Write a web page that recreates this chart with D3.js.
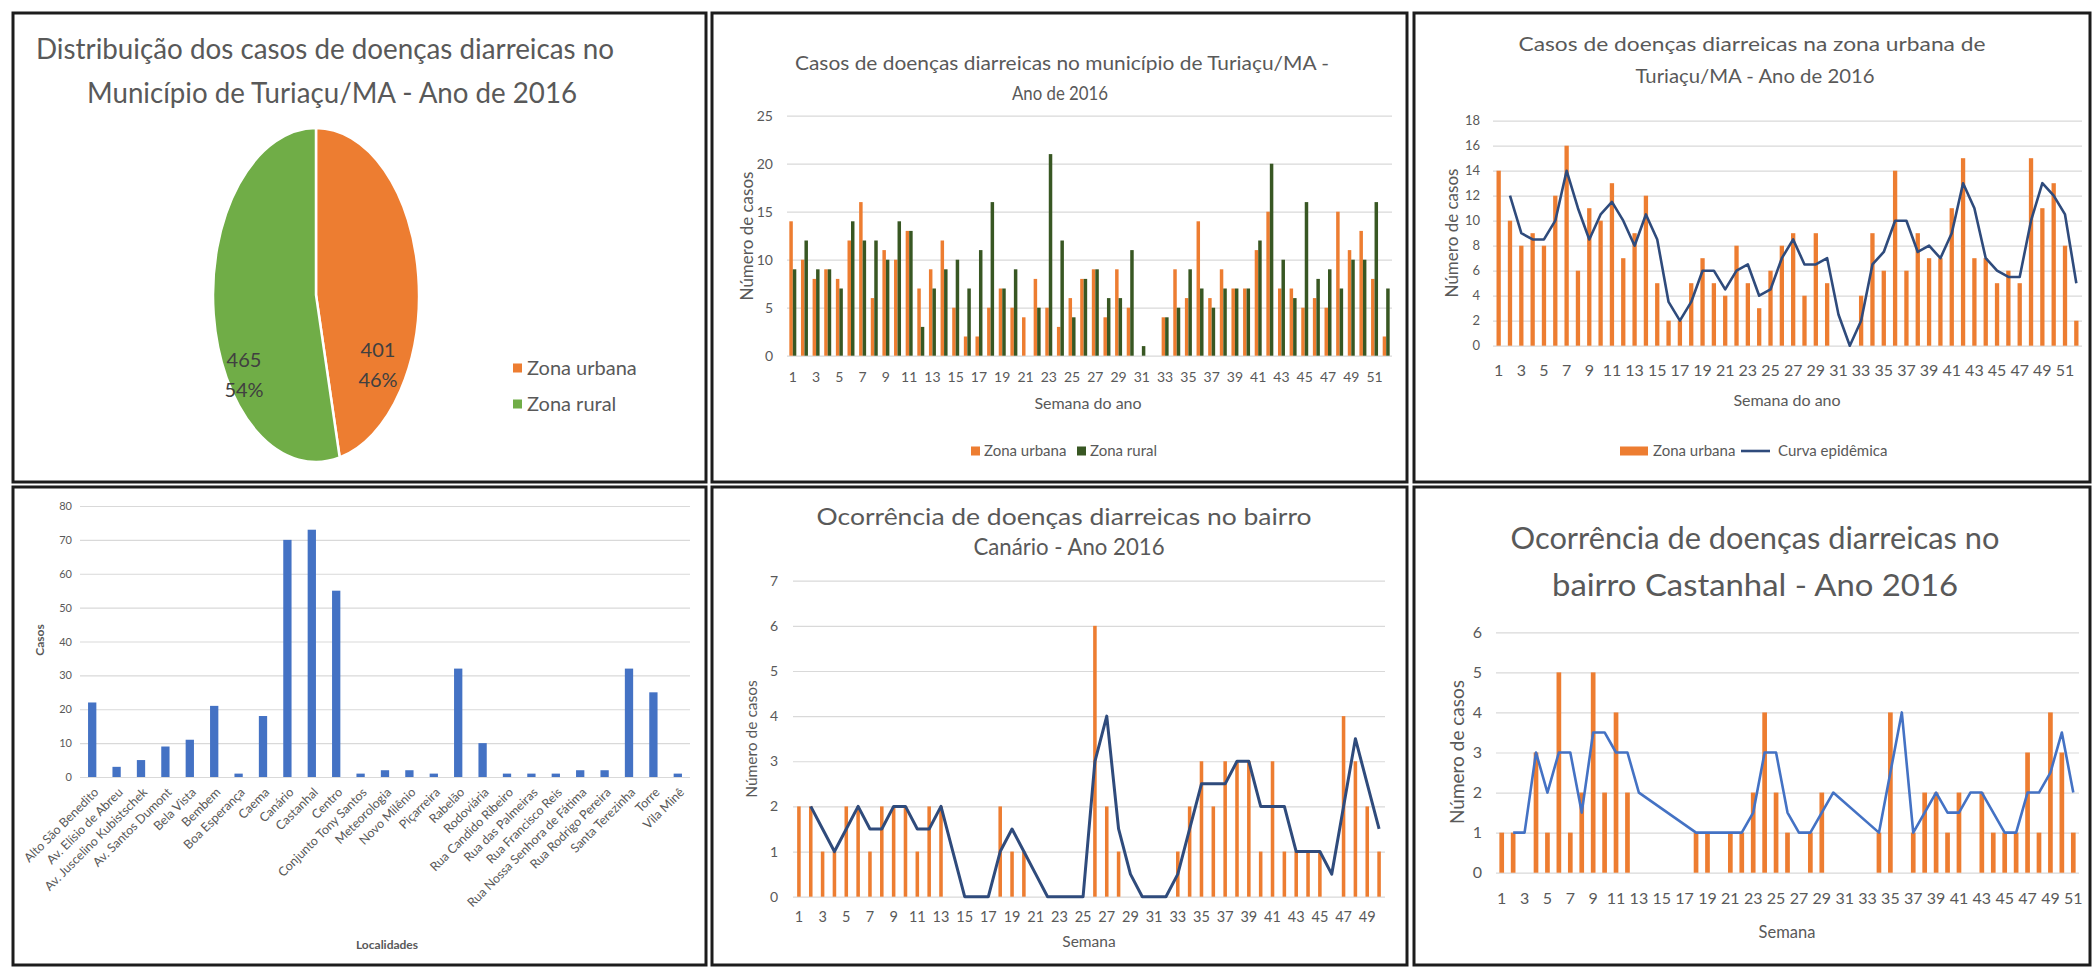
<!DOCTYPE html>
<html>
<head>
<meta charset="utf-8">
<script src="https://cdn.jsdelivr.net/npm/d3@7"></script>
<style>
  html, body { margin: 0; padding: 0; background: #fff; }
  svg { display: block; }
</style>
</head>
<body>
<svg id="chart" width="2093" height="971"></svg>
<script>
// ---------------- data ----------------
const zoneNames = ["Zona urbana", "Zona rural"];
const zoneTotals = [401, 465];

const weeks52 = [1,2,3,4,5,6,7,8,9,10,11,12,13,14,15,16,17,18,19,20,21,22,23,24,25,26,
                 27,28,29,30,31,32,33,34,35,36,37,38,39,40,41,42,43,44,45,46,47,48,49,50,51,52];
const weeks51 = weeks52.slice(0, 51);
const weeks50 = weeks52.slice(0, 50);

const oddWeekTicks51 = [1,3,5,7,9,11,13,15,17,19,21,23,25,27,29,31,33,35,37,39,41,43,45,47,49,51];
const oddWeekTicks49 = [1,3,5,7,9,11,13,15,17,19,21,23,25,27,29,31,33,35,37,39,41,43,45,47,49];

// weekly cases, whole municipality
const urbanCases = [14,10,8,9,8,12,16,6,11,10,13,7,9,12,5,2,2,5,7,5,4,8,5,3,6,8,
                    9,4,9,5,0,0,4,9,6,14,6,9,7,7,11,15,7,7,5,6,5,15,11,13,8,2];
const ruralCases = [9,12,9,9,7,14,12,12,10,14,13,3,7,9,10,7,11,16,7,9,0,5,21,12,4,8,
                    9,6,6,11,1,0,4,5,9,7,5,7,7,7,12,20,10,6,16,8,9,7,10,10,16,7];
const yTicks25 = [0,5,10,15,20,25];

// epidemic curve, urban zone (no point in week 1)
const urbanCurve = [null,12,9,8.5,8.5,10,14,11,8.5,10.5,11.5,10,8,10.5,8.5,3.5,2,3.5,6,6,4.5,6,6.5,4,4.5,7,
                    8.5,6.5,6.5,7,2.5,0,2,6.5,7.5,10,10,7.5,8,7,9,13,11,7,6,5.5,5.5,10,13,12,10.5,5];
const yTicks18 = [0,2,4,6,8,10,12,14,16,18];

// cases by locality
const localities = ["Alto São Benedito","Av. Elísio de Abreu","Av. Juscelino Kubistschek","Av. Santos Dumont",
  "Bela Vista","Bembem","Boa Esperança","Caema","Canário","Castanhal","Centro","Conjunto Tony Santos",
  "Meteorologia","Novo Milênio","Piçarreira","Rabelão","Rodoviária","Rua Candido Ribeiro",
  "Rua das Palmeiras","Rua Francisco Reis","Rua Nossa Senhora de Fátima","Rua Rodrigo Pereira",
  "Santa Terezinha","Torre","Vila Minê"];
const localityCases = [22,3,5,9,11,21,1,18,70,73,55,1,2,2,1,32,10,1,1,1,2,2,32,25,1];
const yTicks80 = [0,10,20,30,40,50,60,70,80];

// bairro Canário, weeks 1-50
const canarioCases = [2,2,1,1,2,2,1,2,2,2,1,2,2,0,0,0,0,2,1,1,0,0,0,0,0,
                      6,2,1,0,0,0,0,1,2,3,2,3,3,3,1,3,1,1,1,1,0,4,3,2,1];
const canarioCurve = [null,2,1.5,1,1.5,2,1.5,1.5,2,2,1.5,1.5,2,1,0,0,0,1,1.5,1,0.5,0,0,0,0,
                      3,4,1.5,0.5,0,0,0,0.5,1.5,2.5,2.5,2.5,3,3,2,2,2,1,1,1,0.5,2,3.5,2.5,1.5];
const yTicks7 = [0,1,2,3,4,5,6,7];

// bairro Castanhal, weeks 1-51 (curve has no point where both weeks are empty)
const castanhalCases = [1,1,0,3,1,5,1,2,5,2,4,2,0,0,0,0,0,1,1,0,1,1,2,4,2,1,
                        0,1,2,0,0,0,0,1,4,0,1,2,2,1,2,0,2,1,1,1,3,1,4,3,1];
const castanhalCurve = [null,1,1,3,2,3,3,1.5,3.5,3.5,3,3,2,null,null,null,null,1,1,1,1,1,1.5,3,3,1.5,
                        1,1,1.5,2,null,null,null,1,2.5,4,1,1.5,2,1.5,1.5,2,2,1.5,1,1,2,2,2.5,3.5,2];
const yTicks6 = [0,1,2,3,4,5,6];

// ---------------- style ----------------
const FONT = "Lato, 'Open Sans', sans-serif";
const C = {
  orange: "#ED7D31", green: "#70AD47", darkGreen: "#385723",
  blue: "#4472C4", navy: "#2F4B7C", text: "#595959", dark: "#404040",
  grid: "#D9D9D9", frame: "#1c1c1c"
};

const svg = d3.select("#chart").attr("font-family", FONT);
svg.append("rect").attr("width", 2093).attr("height", 971).attr("fill", "#fff");

function addText(parent, x, y, str, size, o = {}) {
  const t = parent.append("text")
    .attr("x", x).attr("y", y).attr("dy", "0.35em")
    .attr("font-size", size)
    .attr("fill", o.fill || C.text)
    .attr("text-anchor", o.anchor || "middle")
    .text(str);
  if (o.width) t.attr("textLength", o.width).attr("lengthAdjust", "spacingAndGlyphs");
  if (o.weight) t.attr("font-weight", o.weight);
  if (o.rotate) t.attr("transform", `rotate(${o.rotate},${x},${y})`);
  return t;
}

function frame(x0, y0, x1, y1) {
  svg.append("rect")
    .attr("x", x0).attr("y", y0).attr("width", x1 - x0).attr("height", y1 - y0)
    .attr("fill", "none").attr("stroke", C.frame).attr("stroke-width", 3);
}

function yGrid(parent, y, ticks, x0, x1, labelRight, size) {
  const ax = parent.append("g")
    .attr("transform", `translate(${x0},0)`)
    .call(d3.axisLeft(y).tickValues(ticks).tickSize(-(x1 - x0)).tickFormat(d3.format("d")));
  ax.select(".domain").remove();
  ax.selectAll(".tick line").attr("stroke", C.grid).attr("stroke-width", 1.2);
  ax.selectAll(".tick text")
    .attr("x", labelRight - x0).attr("fill", C.text)
    .attr("font-size", size).attr("font-family", FONT);
  return ax;
}

function xLabels(parent, x, ticks, yBase, labelY, size) {
  const ax = parent.append("g")
    .attr("transform", `translate(0,${yBase})`)
    .call(d3.axisBottom(x).tickValues(ticks).tickSize(0));
  ax.select(".domain").remove();
  ax.selectAll(".tick text")
    .attr("y", labelY - yBase).attr("dy", "0.35em")
    .attr("fill", C.text).attr("font-size", size).attr("font-family", FONT);
  return ax;
}

// weekly bars with a moving-average curve on top
function weekPanel(cfg) {
  const g = svg.append("g");
  const x = d3.scaleBand().domain(cfg.weeks).range([cfg.x0, cfg.x1])
    .paddingInner(cfg.pad).paddingOuter(cfg.pad / 2);
  const y = d3.scaleLinear().domain([0, cfg.yMax]).range([cfg.yBase, cfg.yTop]);

  yGrid(g, y, cfg.yTicks, cfg.x0, cfg.x1, cfg.labelRight, cfg.yFont);

  g.append("g").selectAll("rect")
    .data(cfg.weeks.map((w, i) => ({ w, v: cfg.cases[i] })))
    .join("rect")
    .attr("x", d => x(d.w))
    .attr("width", x.bandwidth())
    .attr("y", d => y(d.v))
    .attr("height", d => y(0) - y(d.v))
    .attr("fill", C.orange);

  const pts = cfg.weeks.map((w, i) => ({ w, v: cfg.curve[i] })).filter(d => d.v !== null);
  g.append("path")
    .datum(pts)
    .attr("fill", "none")
    .attr("stroke", cfg.lineColor)
    .attr("stroke-width", cfg.lineWidth)
    .attr("stroke-linejoin", "round")
    .attr("d", d3.line().x(d => x(d.w) + x.bandwidth() / 2).y(d => y(d.v)));

  xLabels(g, x, cfg.xTicks, cfg.yBase, cfg.xLabelY, cfg.xFont);
  return g;
}

// ---------------- panel frames ----------------
frame(13, 13, 706, 482);
frame(712, 13, 1407, 482);
frame(1414, 13, 2090, 482);
frame(13, 487, 706, 965);
frame(712, 487, 1407, 965);
frame(1414, 487, 2090, 965);

// ---------------- 1. pie: urban x rural ----------------
{
  addText(svg, 325, 49, "Distribuição dos casos de doenças diarreicas no", 28, { width: 578 });
  addText(svg, 332, 93, "Município de Turiaçu/MA - Ano de 2016", 28, { width: 490 });

  const total = d3.sum(zoneTotals);
  const R = 100;
  const pieG = svg.append("g").attr("transform", `translate(316,295) scale(${103 / R},${167 / R})`);
  const arcs = d3.pie().sort(null).value(d => d)(zoneTotals);
  const arc = d3.arc().innerRadius(0).outerRadius(R);
  const fills = [C.orange, C.green];
  pieG.selectAll("path").data(arcs).join("path")
    .attr("d", arc)
    .attr("fill", (d, i) => fills[i])
    .attr("stroke", "#fff").attr("stroke-width", 2.5)
    .attr("vector-effect", "non-scaling-stroke");

  const labelPos = [[378, 350], [244, 360]];
  zoneTotals.forEach((v, i) => {
    const [lx, ly] = labelPos[i];
    addText(svg, lx, ly, String(v), 20, { fill: C.dark });
    addText(svg, lx, ly + 30, Math.round(v / total * 100) + "%", 20, { fill: C.dark });
  });

  zoneNames.forEach((n, i) => {
    const ly = 368 + i * 36;
    svg.append("rect").attr("x", 513).attr("y", ly - 4.5).attr("width", 9).attr("height", 9).attr("fill", fills[i]);
    addText(svg, 527, ly, n, 20, { anchor: "start" });
  });
}

// ---------------- 2. grouped bars: urban x rural by week ----------------
{
  const g = svg.append("g");
  addText(g, 1062, 63, "Casos de doenças diarreicas no município de Turiaçu/MA -", 20, { width: 534 });
  addText(g, 1060, 93, "Ano de 2016", 20, { width: 96 });

  const x = d3.scaleBand().domain(weeks52).range([787, 1392]).paddingInner(0.4).paddingOuter(0.2);
  const xIn = d3.scaleBand().domain([0, 1]).range([0, x.bandwidth()]);
  const y = d3.scaleLinear().domain([0, 25]).range([355.7, 115.7]);

  yGrid(g, y, yTicks25, 787, 1392, 773, 14);

  const series = [urbanCases, ruralCases];
  const colors = [C.orange, C.darkGreen];
  series.forEach((vals, s) => {
    g.append("g").selectAll("rect")
      .data(weeks52.map((w, i) => ({ w, v: vals[i] })))
      .join("rect")
      .attr("x", d => x(d.w) + xIn(s))
      .attr("width", xIn.bandwidth())
      .attr("y", d => y(d.v))
      .attr("height", d => y(0) - y(d.v))
      .attr("fill", colors[s]);
  });

  xLabels(g, x, oddWeekTicks51, 355.7, 377, 14);
  addText(g, 747, 236, "Número de casos", 17, { rotate: -90 });
  addText(g, 1088, 403, "Semana do ano", 16);

  const legX = [971, 1077];
  zoneNames.forEach((n, i) => {
    g.append("rect").attr("x", legX[i]).attr("y", 451 - 4.5).attr("width", 9).attr("height", 9).attr("fill", colors[i]);
    addText(g, legX[i] + 13, 451, n, 15, { anchor: "start" });
  });
}

// ---------------- 3. urban zone with epidemic curve ----------------
{
  addText(svg, 1752, 44, "Casos de doenças diarreicas na zona urbana de", 20, { width: 467 });
  addText(svg, 1755, 76, "Turiaçu/MA - Ano de 2016", 20, { width: 239 });

  const g = weekPanel({
    weeks: weeks52, cases: urbanCases, curve: urbanCurve,
    x0: 1493, x1: 2082, pad: 0.62, yMax: 18, yBase: 345.7, yTop: 120.7,
    yTicks: yTicks18, labelRight: 1480, yFont: 13,
    xTicks: oddWeekTicks51, xLabelY: 370, xFont: 16,
    lineColor: C.navy, lineWidth: 2.6
  });
  addText(g, 1452, 233, "Número de casos", 17, { rotate: -90 });
  addText(g, 1787, 400, "Semana do ano", 16);

  g.append("rect").attr("x", 1620).attr("y", 451 - 4.5).attr("width", 28).attr("height", 9).attr("fill", C.orange);
  addText(g, 1653, 451, "Zona urbana", 15, { anchor: "start" });
  g.append("line").attr("x1", 1741).attr("x2", 1770).attr("y1", 451).attr("y2", 451)
    .attr("stroke", C.navy).attr("stroke-width", 2.6);
  addText(g, 1778, 451, "Curva epidêmica", 15, { anchor: "start" });
}

// ---------------- 4. cases by locality ----------------
{
  const g = svg.append("g");
  const x = d3.scaleBand().domain(localities).range([80, 690]).paddingInner(0.66).paddingOuter(0.33);
  const y = d3.scaleLinear().domain([0, 80]).range([777, 506]);

  yGrid(g, y, yTicks80, 80, 690, 72, 11);

  g.append("g").selectAll("rect")
    .data(localities.map((n, i) => ({ n, v: localityCases[i] })))
    .join("rect")
    .attr("x", d => x(d.n))
    .attr("width", x.bandwidth())
    .attr("y", d => y(d.v))
    .attr("height", d => y(0) - y(d.v))
    .attr("fill", C.blue);

  const ax = g.append("g").attr("transform", "translate(0,777)")
    .call(d3.axisBottom(x).tickSize(0));
  ax.select(".domain").remove();
  ax.selectAll(".tick text")
    .attr("x", 0).attr("y", 0).attr("dy", "0.35em")
    .attr("text-anchor", "end")
    .attr("transform", "translate(4,13) rotate(-45)")
    .attr("fill", C.text).attr("font-size", 12.5).attr("font-family", FONT);

  addText(g, 40, 640, "Casos", 12, { rotate: -90, weight: 700 });
  addText(g, 387, 945, "Localidades", 12, { weight: 700 });
}

// ---------------- 5. bairro Canário ----------------
{
  addText(svg, 1064, 517, "Ocorrência de doenças diarreicas no bairro", 23, { width: 495 });
  addText(svg, 1069, 547, "Canário - Ano 2016", 23, { width: 191 });

  const g = weekPanel({
    weeks: weeks50, cases: canarioCases, curve: canarioCurve,
    x0: 793, x1: 1385, pad: 0.7, yMax: 7, yBase: 896.7, yTop: 580.7,
    yTicks: yTicks7, labelRight: 778, yFont: 14,
    xTicks: oddWeekTicks49, xLabelY: 917, xFont: 14.5,
    lineColor: C.navy, lineWidth: 3
  });
  addText(g, 752, 739, "Número de casos", 15.5, { rotate: -90 });
  addText(g, 1089, 942, "Semana", 15.5);
}

// ---------------- 6. bairro Castanhal ----------------
{
  addText(svg, 1755, 538, "Ocorrência de doenças diarreicas no", 30, { width: 489 });
  addText(svg, 1755, 585, "bairro Castanhal - Ano 2016", 30, { width: 406 });

  const g = weekPanel({
    weeks: weeks51, cases: castanhalCases, curve: castanhalCurve,
    x0: 1496, x1: 2079, pad: 0.59, yMax: 6, yBase: 872.7, yTop: 632.3,
    yTicks: yTicks6, labelRight: 1482, yFont: 16,
    xTicks: oddWeekTicks51, xLabelY: 898, xFont: 16,
    lineColor: C.blue, lineWidth: 2.6
  });
  addText(g, 1457, 752, "Número de casos", 19, { rotate: -90 });
  addText(g, 1787, 932, "Semana", 16.5);
}
</script>
</body>
</html>
